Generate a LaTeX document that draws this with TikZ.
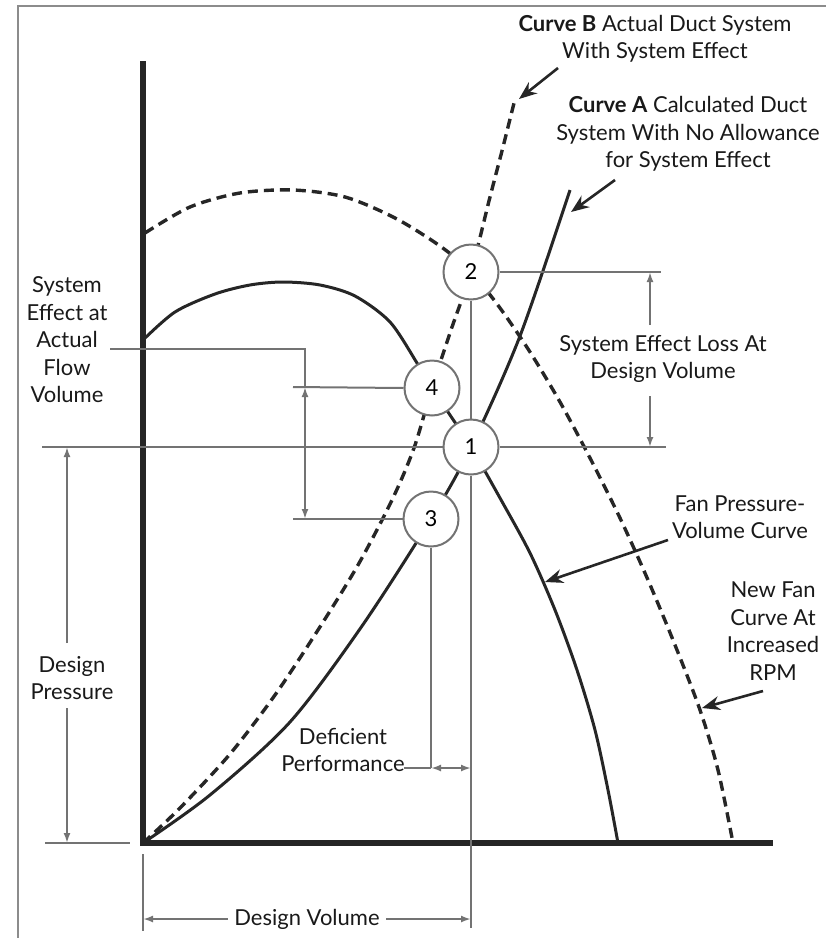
\documentclass[tikz,border=0pt]{standalone}
\usepackage{fontspec}
\setmainfont{Lato}
\usetikzlibrary{arrows.meta,positioning}

\tikzset{
  axisline/.style={line width=2.8pt, black!85},
  fancurve/.style={line width=1.5pt, black!85},
  sysdash/.style={line width=1.7pt, black!85, dash pattern=on 5pt off 3pt},
  dimline/.style={line width=1pt, black!55},
  dimtip/.style={dimline, -{Latex[length=5pt,width=3.5pt]}},
  dimboth/.style={dimline, {Latex[length=5pt,width=3.5pt]}-{Latex[length=5pt,width=3.5pt]}},
  leader/.style={line width=1.3pt, black!85, -{Stealth[length=9pt,width=7pt]}},
  opcircle/.style={circle, draw=black!55, line width=1pt, fill=white, minimum size=27.5pt, inner sep=0pt, font=\fontsize{11}{12}\selectfont},
  lbl/.style={align=center, inner sep=0pt, text=black!90, font=\fontsize{11}{13.75}\selectfont},
}

\begin{document}
\begin{tikzpicture}[x=0.5pt, y=-0.5pt]
  \useasboundingbox (0,0) rectangle (826,938);
  % frame
  \draw[black!45, line width=1pt] (18,938) -- (18,6) -- (826,6);

  % axes
  \draw[axisline] (143,61) -- (143,843) -- (773,843);

  % fan curves
  \draw[sysdash] plot[smooth] coordinates {(145,233) (190,207) (240,193) (293,190) (345,197) (395,218)
    (440,246) (471,272) (500,308) (530,352) (560,402) (590,458) (620,518) (648,580) (675,645)
    (700,710) (718,770) (733,843)};
  \draw[fancurve] plot[smooth] coordinates {(143,340) (175,312) (215,294) (250,285) (283,282) (320,285)
    (355,296) (390,322) (417,363) (432,388) (448,412) (471,447) (500,498) (530,553) (555,610)
    (577,670) (595,730) (608,790) (618,843)};

  % system curves
  \draw[fancurve] plot[smooth] coordinates {(143,843) (210,795) (290,722) (362,626) (431,519)
    (471,447) (520,336) (570,190)};
  \draw[sysdash] plot[smooth] coordinates {(143,843) (180,808) (230,754) (275,695) (318,630)
    (358,565) (392,500) (414,448) (432,388) (451,330) (471,272) (490,197) (503,147) (514,103)};

  % operating points
  \node[opcircle] (p1) at (471,447) {1};
  \node[opcircle] (p2) at (471,272) {2};
  \node[opcircle] (p3) at (431,519) {3};
  \node[opcircle] (p4) at (432,388) {4};

  % design volume and design pressure lines
  \draw[dimline] (42,447) -- (p1.west);
  \draw[dimline] (p1.east) -- (666,447);
  \draw[dimline] (p2.south) -- (p1.north);
  \draw[dimline] (p1.south) -- (471,928);
  \draw[dimline] (p2.east) -- (661,272);

  % system effect loss
  \node[lbl] (loss) at (663,359) {System Effect Loss At\\Design Volume};
  \draw[dimtip] (650,325) -- (650,272);
  \draw[dimtip] (650,396) -- (650,447);

  % system effect at actual flow
  \node[lbl] (sysEff) at (67,340) {System\\Effect at\\Actual\\Flow\\Volume};
  \draw[dimline] (110,349) -| (305,387);
  \draw[dimline] (293,387) -- (p4.west);
  \draw[dimline] (293,519) -- (p3.west);
  \draw[dimboth] (305,387) -- (305,519);

  % design pressure
  \node[lbl] (dpress) at (72,678) {Design\\Pressure};
  \draw[dimline] (45,843) -- (130,843);
  \draw[dimtip] (67,643) -- (67,447);
  \draw[dimtip] (67,708) -- (67,843);

  % deficient performance
  \node[lbl] (defic) at (343,750) {Deficient\\Performance};
  \draw[dimline] (p3.south) -- (431,768);
  \draw[dimline] (404,768) -- (431,768);
  \draw[dimboth] (431,768) -- (471,768);

  % design volume
  \node[lbl] (dvol) at (307,919) {Design Volume};
  \draw[dimline] (143,854) -- (143,931);
  \draw[dimtip] ([xshift=-3pt]dvol.west) -- (143,919);
  \draw[dimtip] ([xshift=3pt]dvol.east) -- (471,919);

  % curve labels
  \node[lbl] (curveB) at (655,39) {\textbf{Curve B} Actual Duct System\\With System Effect};
  \node[lbl] (curveA) at (688,134) {\textbf{Curve A} Calculated Duct\\System With No Allowance\\for System Effect};
  \node[lbl] (fanlbl) at (740,517) {Fan Pressure-\\Volume Curve};
  \node[lbl] (newfan) at (773,631) {New Fan\\Curve At\\Increased\\RPM};
  \coordinate (tipB) at (519,99);
  \coordinate (tipA) at (571,212);
  \coordinate (tipF) at (545,582);
  \coordinate (tipN) at (702,708);
  \draw[leader] (558,68) -- (tipB);
  \draw[leader] (615,180) -- (tipA);
  \draw[leader] (668,540) -- (tipF);
  \draw[leader] (763,691) -- (tipN);
\end{tikzpicture}
\end{document}
